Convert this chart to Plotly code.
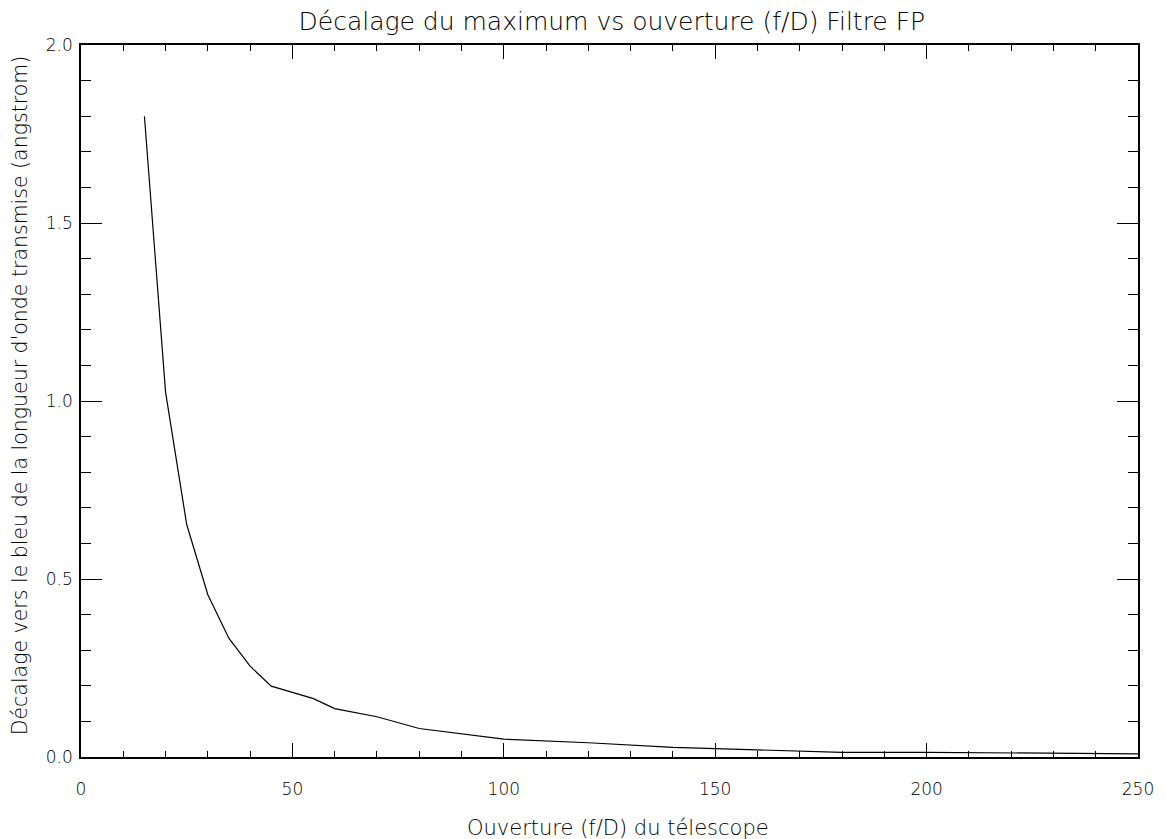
import plotly.graph_objects as go

# f/D aperture values and corresponding blue shift (angstrom)
aperture = [15, 20, 25, 30, 35, 40, 45, 50, 55, 60, 70, 80, 90, 100, 120, 140, 160, 180, 200, 250]
shift = [1.80, 1.025, 0.653, 0.456, 0.333, 0.255, 0.199, 0.182, 0.164, 0.136, 0.113, 0.080, 0.064,
         0.050, 0.040, 0.027, 0.020, 0.013, 0.013, 0.009]

title_text = "Décalage du maximum vs ouverture (f/D) Filtre FP"
x_title = "Ouverture (f/D) du télescope"
y_title = "Décalage vers le bleu de la longueur d'onde transmise (angstrom)"
x_ticks = [0, 50, 100, 150, 200, 250]
y_ticks = [0.0, 0.5, 1.0, 1.5, 2.0]

FONT = "DejaVu Sans"
W = 200

fig = go.Figure()
fig.add_trace(go.Scatter(x=aperture, y=shift, mode="lines",
                         line=dict(color="black", width=1.2), showlegend=False))

fig.update_layout(
    width=1159, height=832,
    paper_bgcolor="white", plot_bgcolor="white",
    margin=dict(l=73, r=29, t=37, b=83, autoexpand=False),
    font=dict(family=FONT, color="black", size=17, weight=W),
    title=dict(text=title_text, x=0.521, xanchor="center", y=0.984, yanchor="middle",
               font=dict(family=FONT, size=25, color="black", weight=W)),
)

fig.update_xaxes(
    range=[0, 250], tickvals=x_ticks, ticktext=[str(v) for v in x_ticks],
    ticks="inside", ticklen=14, tickwidth=1.2, tickcolor="black",
    minor=dict(dtick=10, tick0=0, ticks="inside", ticklen=6, tickwidth=1.2, tickcolor="black"),
    showline=True, linecolor="black", linewidth=1.5, mirror="allticks",
    showgrid=False, zeroline=False, automargin=False,
    ticklabelstandoff=16,
    tickfont=dict(family=FONT, size=17, color="black", weight=W),
)
fig.update_yaxes(
    range=[0, 2.0], tickvals=y_ticks, ticktext=["%.1f" % v for v in y_ticks],
    ticks="inside", ticklen=21, tickwidth=1.2, tickcolor="black",
    minor=dict(dtick=0.1, tick0=0, ticks="inside", ticklen=10, tickwidth=1.2, tickcolor="black"),
    showline=True, linecolor="black", linewidth=1.5, mirror="allticks",
    showgrid=False, zeroline=False, automargin=False,
    ticklabelstandoff=3,
    tickfont=dict(family=FONT, size=17, color="black", weight=W),
)

fig.add_annotation(text=x_title, xref="paper", yref="paper", x=0.508, y=-0.0997,
                   xanchor="center", yanchor="middle", showarrow=False,
                   font=dict(family=FONT, size=21, color="black", weight=W))
fig.add_annotation(text=y_title, xref="paper", yref="paper", x=-0.0577, y=0.508,
                   xanchor="center", yanchor="middle", textangle=-90, showarrow=False,
                   font=dict(family=FONT, size=20.5, color="black", weight=W))

fig.write_html("out.html")
